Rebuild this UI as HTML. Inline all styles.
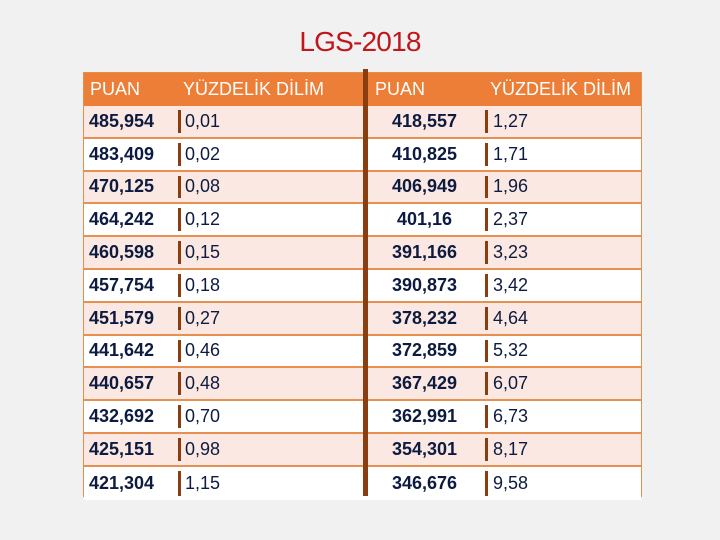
<!DOCTYPE html>
<html><head><meta charset="utf-8"><style>
body{margin:0;width:720px;height:540px;background:#f1f1f1;font-family:"Liberation Sans",sans-serif;position:relative;overflow:hidden}
#title{position:absolute;left:0;width:720px;top:26px;text-align:center;color:#c0161c;font-size:28px;letter-spacing:-0.8px}
#tbl{position:absolute;left:83px;top:72px;width:559px;height:425px;border:1px solid #e0914f;box-sizing:border-box}
.row{position:absolute;left:0;width:557px;border-bottom:2px solid #e8904f;box-sizing:border-box}
.hdr{background:#ec7e37;color:#fff}
.c{position:absolute;top:0;height:100%;display:flex;align-items:center;font-size:18px;color:#0d1b40}
.b{font-weight:bold}
.sep{position:absolute;width:3px;background:#8a3d0f;top:4px;bottom:4px}
#thick{position:absolute;left:279px;top:-4px;width:5px;height:427px;background:#8a3d0f}
</style></head><body>
<div id="title">LGS-2018</div>
<div id="tbl"></div>
<script>
const puanL=["485,954","483,409","470,125","464,242","460,598","457,754","451,579","441,642","440,657","432,692","425,151","421,304"];
const pctL=["0,01","0,02","0,08","0,12","0,15","0,18","0,27","0,46","0,48","0,70","0,98","1,15"];
const puanR=["418,557","410,825","406,949","401,16","391,166","390,873","378,232","372,859","367,429","362,991","354,301","346,676"];
const pctR=["1,27","1,71","1,96","2,37","3,23","3,42","4,64","5,32","6,07","6,73","8,17","9,58"];
const tbl=document.getElementById('tbl');
const rowH=32.8,hdrH=33;
function cell(row,left,w,text,cls,center){const d=document.createElement('div');d.className='c '+(cls||'');d.style.left=left+'px';d.style.width=w+'px';if(center)d.style.justifyContent='center';d.textContent=text;row.appendChild(d);return d;}
const h=document.createElement('div');


h.className='row hdr';h.style.top='0px';h.style.height=hdrH+'px';h.style.borderBottom='none';
tbl.appendChild(h);
[[6,'PUAN'],[99,'YÜZDELİK DİLİM'],[291,'PUAN'],[406,'YÜZDELİK DİLİM']].forEach(([l,t])=>{const c=cell(h,l,180,t,'');c.style.color='#fff';});
for(let i=0;i<puanL.length;i++){
 const r=document.createElement('div');
 
 
 r.className='row';r.style.top=(hdrH+i*rowH)+'px';r.style.height=rowH+'px';
 r.style.background=i%2==0?'#fbe8e2':'#ffffff';
 if(i==puanL.length-1)r.style.borderBottom='none';
 tbl.appendChild(r);
 cell(r,5,90,puanL[i],'b');
 cell(r,101,170,pctL[i],'');
 cell(r,288,105,puanR[i],'b',true);
 cell(r,409,140,pctR[i],'');
 [94,401].forEach(x=>{const s=document.createElement('div');s.className='sep';s.style.left=x+'px';r.appendChild(s);});
}
const t=document.createElement('div');t.id='thick';


tbl.appendChild(t);
</script>
</body></html>
